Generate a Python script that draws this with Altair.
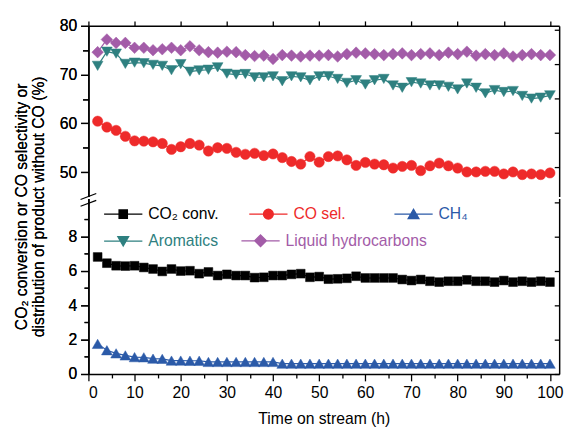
import altair as alt
import pandas as pd

TIME = list(range(2, 101, 2))

CO2_CONV = [6.80, 6.44, 6.29, 6.27, 6.29, 6.19, 6.10, 5.96, 6.10, 5.98,
            6.00, 5.83, 5.93, 5.72, 5.79, 5.72, 5.72, 5.60, 5.62, 5.72,
            5.72, 5.79, 5.83, 5.62, 5.66, 5.51, 5.53, 5.56, 5.68, 5.58,
            5.58, 5.58, 5.58, 5.49, 5.43, 5.49, 5.39, 5.34, 5.39, 5.39,
            5.47, 5.39, 5.39, 5.34, 5.43, 5.34, 5.39, 5.34, 5.39, 5.34]
CO_SEL = [60.44, 59.23, 58.56, 57.35, 56.41, 56.34, 56.21, 55.87, 54.66, 55.20,
          55.87, 55.54, 54.33, 55.00, 54.87, 54.06, 53.66, 53.86, 53.39, 53.72,
          52.98, 52.18, 51.64, 53.19, 52.04, 53.19, 53.32, 52.51, 51.37, 51.98,
          51.64, 51.51, 50.83, 51.17, 51.37, 50.30, 51.30, 51.84, 51.30, 50.83,
          50.03, 50.03, 50.16, 50.16, 49.62, 50.03, 49.49, 49.62, 49.49, 49.83]
CH4 = [1.75, 1.38, 1.20, 1.08, 0.98, 0.97, 0.89, 0.88, 0.78, 0.78,
       0.77, 0.77, 0.70, 0.70, 0.70, 0.70, 0.70, 0.70, 0.70, 0.70,
       0.60, 0.60, 0.60, 0.60, 0.60, 0.60, 0.60, 0.60, 0.60, 0.60,
       0.60, 0.60, 0.60, 0.60, 0.60, 0.60, 0.60, 0.60, 0.60, 0.60,
       0.60, 0.60, 0.60, 0.60, 0.60, 0.60, 0.60, 0.60, 0.60, 0.60]
AROMATICS = [71.80, 74.70, 74.30, 72.20, 72.45, 72.34, 72.00, 71.80, 70.90, 72.15,
             70.60, 70.86, 71.00, 71.50, 70.19, 69.99, 70.12, 69.45, 69.45, 69.65,
             68.64, 69.65, 69.45, 68.84, 69.65, 69.70, 69.11, 68.31, 68.84, 67.97,
             68.84, 69.11, 67.77, 67.30, 68.44, 68.17, 67.77, 67.77, 67.50, 66.96,
             68.17, 67.30, 66.16, 66.83, 66.43, 66.63, 65.62, 65.08, 65.28, 65.75]
LIQUID_HC = [74.6, 77.2, 76.5, 76.5, 75.5, 75.5, 75.0, 75.2, 75.5, 75.0,
             75.8, 75.0, 74.6, 74.5, 74.7, 74.6, 74.0, 73.8, 73.9, 73.2,
             74.0, 73.9, 73.7, 73.9, 73.9, 74.0, 73.7, 74.2, 74.5, 74.35,
             74.2, 74.0, 74.2, 74.35, 74.0, 74.2, 74.35, 74.0, 74.5, 74.2,
             74.7, 73.9, 74.2, 74.0, 74.35, 73.7, 74.0, 74.2, 74.0, 74.0]

SERIES = ["CO₂ conv.", "CO sel.", "CH₄", "Aromatics", "Liquid hydrocarbons"]
COLORS = ["#000000", "#ee2a2a", "#2b5aa8", "#2e8080", "#a35ca8"]
SHAPES = ["square", "circle", "triangle-up", "triangle-down", "diamond"]
SIZES = [80, 110, 120, 120, 140]
LEGEND_PATHS = [
    "M-3.9,0H3.9M-0.85,-0.85H0.85V0.85H-0.85Z",
    "M-3.9,0H3.9M-1,0A1,1,0,1,0,1,0A1,1,0,1,0,-1,0Z",
    "M-3.9,0H3.9M0,-1L1.1,0.9L-1.1,0.9Z",
    "M-3.9,0H3.9M0,1L1.1,-0.9L-1.1,-0.9Z",
    "M-3.9,0H3.9M0,-1.2L1.2,0L0,1.2L-1.2,0Z",
]
UPPER_SERIES = ["CO sel.", "Aromatics", "Liquid hydrocarbons"]
LOWER_SERIES = ["CO₂ conv.", "CH₄"]
ROW1 = ["CO₂ conv.", "CO sel.", "CH₄"]
ROW2 = ["Aromatics", "Liquid hydrocarbons"]

Y_TITLE = ["CO₂ conversion or CO selectivity or", "distribution of product without CO (%)"]
X_TITLE = "Time on stream (h)"

FONT = "Liberation Sans"
W = 480
H_UP = 174
H_LOW = 179
X_DOMAIN = [0, 102]
UP_Y = [45, 80]
LOW_Y = [0, 10.2]
UP_RIGHT = [10.31, 20.23]
LOW_RIGHT = [0, 10.2]

rows = []
for name, vals in zip(SERIES, [CO2_CONV, CO_SEL, CH4, AROMATICS, LIQUID_HC]):
    for t, v in zip(TIME, vals):
        rows.append({"t": t, "v": v, "series": name})
df = pd.DataFrame(rows)


def lookup_expr(vals):
    e = "'" + vals[-1] + "'"
    for s, v in reversed(list(zip(SERIES[:-1], vals[:-1]))):
        e = "datum.value === '" + s + "' ? '" + v + "' : (" + e + ")"
    return e


def color_scale():
    return alt.Scale(domain=SERIES, range=COLORS)


shape_scale = alt.Scale(domain=SERIES, range=SHAPES)
size_scale = alt.Scale(type="ordinal", domain=SERIES, range=SIZES)


def legend_row(values, y, align, pad):
    return alt.Legend(
        title=None, orient="none", legendX=15.5, legendY=y, direction="horizontal",
        columns=len(values), values=values, gridAlign=align, columnPadding=pad,
        padding=0, symbolType=alt.ExprRef(lookup_expr(LEGEND_PATHS)), symbolSize=100,
        symbolFillColor=alt.ExprRef(lookup_expr(COLORS)),
        symbolStrokeColor=alt.ExprRef(lookup_expr(COLORS)),
        symbolStrokeWidth=1.3, symbolOffset=12, labelOffset=17.5, symbolOpacity=1,
        labelColor=alt.ExprRef(lookup_expr(COLORS)), labelFont=FONT,
        labelFontSize=16, labelLimit=400,
    )


def major_tick(step, big, small):
    return {"condition": {"test": "datum.value % " + str(step) + " === 0", "value": big}, "value": small}


def panel(series_list, y_domain, y_axis, x_axis, height, right_domain, right_ticks, legends, extra=None):
    data = df[df["series"].isin(series_list)]
    base = alt.Chart(data).encode(
        x=alt.X("t:Q", scale=alt.Scale(domain=X_DOMAIN, nice=False, zero=False), axis=x_axis),
        y=alt.Y("v:Q", scale=alt.Scale(domain=y_domain, nice=False, zero=False), axis=y_axis),
    )
    leg1, leg2 = legends
    lines = base.mark_line(strokeWidth=1.2).encode(
        stroke=alt.Stroke("series:N", scale=color_scale(), legend=leg1),
    )
    points = base.mark_point(filled=True, opacity=1, strokeWidth=0.5).encode(
        fill=alt.Fill("series:N", scale=color_scale(), legend=None),
        stroke=alt.Stroke("series:N", scale=color_scale(), legend=leg2),
        shape=alt.Shape("series:N", scale=shape_scale, legend=None),
        size=alt.Size("series:N", scale=size_scale, legend=None),
    )
    right = alt.Chart(pd.DataFrame({"r": right_domain})).mark_point(opacity=0).encode(
        y=alt.Y("r:Q", scale=alt.Scale(domain=right_domain, nice=False, zero=False),
                axis=alt.Axis(orient="right", values=right_ticks, labels=False,
                              tickSize=alt.ExprRef("-5"), title=None, grid=False)),
    )
    layers = [lines, points, right]
    if extra:
        layers += extra
    return alt.layer(*layers).resolve_scale(y="independent", stroke="independent").resolve_axis(
        y="independent").properties(width=W, height=height)


up_y_axis = alt.Axis(orient="left", values=list(range(50, 81, 5)),
                     labelExpr="datum.value % 10 === 0 ? datum.label : ''",
                     tickSize=major_tick(10, 8, 6), labelPadding=4, title=None, grid=False)
up_x_axis = alt.Axis(orient="top", values=list(range(0, 101, 10)), labels=False,
                     tickSize=5, title=None, grid=False)
low_y_axis = alt.Axis(orient="left", values=list(range(0, 10)),
                      labelExpr="datum.value % 2 === 0 ? datum.label : ''",
                      tickSize=major_tick(2, 8, 4.5), labelPadding=4, title=Y_TITLE,
                      titleX=-60, titleY=8, titleAngle=270, titleAlign="center",
                      titleBaseline="bottom", titleLineHeight=17, grid=False)
low_x_axis = alt.Axis(orient="bottom", values=list(range(0, 101, 5)),
                      labelExpr="datum.value % 10 === 0 ? datum.label : ''",
                      tickSize=major_tick(10, 7, 4), labelPadding=4, title=X_TITLE,
                      titlePadding=10, grid=False)

brk_df = pd.DataFrame({"k": [0]})
brk1 = alt.Chart(brk_df).mark_rule(color="black", strokeWidth=1.2).encode(
    x=alt.value(-8), x2=alt.value(8), y=alt.value(1), y2=alt.value(-5))
brk2 = alt.Chart(brk_df).mark_rule(color="black", strokeWidth=1.2).encode(
    x=alt.value(-8), x2=alt.value(8), y=alt.value(8), y2=alt.value(2))

upper = panel(UPPER_SERIES, UP_Y, up_y_axis, up_x_axis, H_UP, UP_RIGHT,
              [12, 14, 16, 18, 20], (None, None))
lower = panel(LOWER_SERIES, LOW_Y, low_y_axis, low_x_axis, H_LOW, LOW_RIGHT,
              [0, 2, 4, 6, 8, 10],
              (legend_row(ROW1, 8, "all", 27), legend_row(ROW2, 35, "each", 20)),
              extra=[brk1, brk2])

chart = alt.vconcat(upper, lower, spacing=2, bounds="flush").resolve_scale(
    x="independent", y="independent", fill="independent", stroke="independent",
    shape="independent", size="independent",
).configure_axis(
    labelFont=FONT, titleFont=FONT, labelFontSize=16, titleFontSize=16,
    titleFontWeight="normal", labelColor="black", titleColor="black",
    domainColor="black", tickColor="black", domainWidth=1.5, tickWidth=1.3,
).configure_view(stroke=None).properties(
    padding={"left": 5, "top": 6, "right": 5, "bottom": 5}
)

chart.save("out.html", embed_options={"renderer": "svg", "actions": False})
